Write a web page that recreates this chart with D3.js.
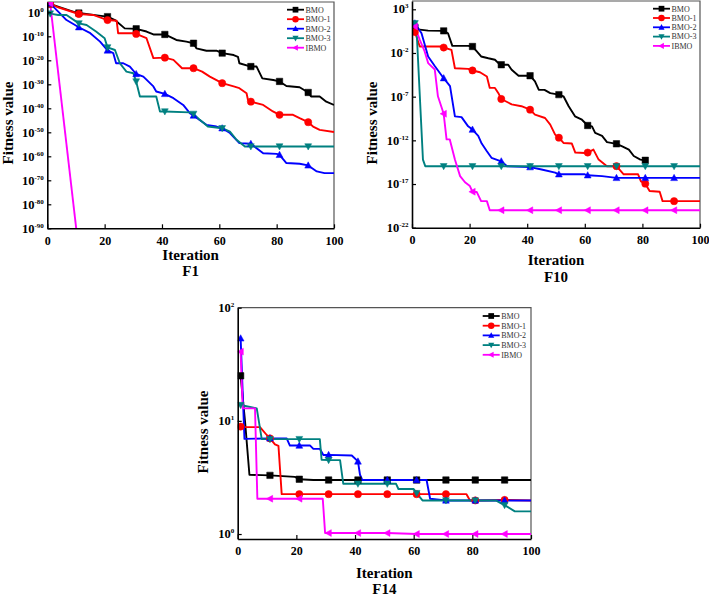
<!DOCTYPE html>
<html><head><meta charset="utf-8">
<script src="https://cdn.jsdelivr.net/npm/d3@7"></script>
<style>body{margin:0;background:#fff}svg{display:block}</style>
</head><body><svg id="c" width="709" height="599"></svg>
<script>
// ---------- data ----------
const seriesNames = ["BMO", "BMO-1", "BMO-2", "BMO-3", "IBMO"];
const xTickValues = [0, 20, 40, 60, 80, 100];
const f1TickExps = [0, -10, -20, -30, -40, -50, -60, -70, -80, -90];
const f10TickExps = [3, -2, -7, -12, -17, -22];
const f14TickExps = [2, 1, 0];

// F1 : [iteration, fitness]
const f1_BMO = [[0,5e3],[1,3e3],[4,2e2],[10,8e-1],[11,5e-1],[18,4e-2],[21,1.6e-2],[23.6,6e-4],[27,2e-7],[31,1.3e-7],[34.6,1e-8],[37,6e-10],[41,6e-10],[45,3e-12],[48.5,6e-13],[51,1.3e-13],[52,1e-15],[55.5,1e-16],[59,1e-16],[61,1e-17],[65,1.6e-18],[66.5,3e-19],[67,6e-22],[71,2.5e-23],[73,2.5e-23],[75,3e-28],[78.8,6e-29],[81,1.6e-29],[83.4,2e-31],[88,6e-32],[91,4e-34],[92,8e-36],[95,8e-36],[97.3,6e-38],[100,2.5e-39]];
const f1_BMO1 = [[0,5e3],[1,3e3],[4,1e2],[11,2e-1],[16,8e-2],[21,6e-4],[24.2,3e-4],[24.7,2e-9],[30,2e-9],[31,1e-9],[34.6,1.6e-11],[37,8e-20],[41,1.3e-19],[44,1.6e-20],[47,5e-24],[51,5e-24],[54,2e-25],[56.7,1.6e-27],[61,3e-30],[65,1.3e-31],[67,2.5e-32],[69.5,2e-34],[70,3e-37],[71,6e-38],[75.3,2.5e-39],[78.7,5e-42],[81,2e-43],[85.7,2e-43],[88,8e-45],[91,1.6e-46],[92.7,2.5e-48],[95,1e-49],[100,1.3e-50]];
const f1_BMO2 = [[0,5e3],[1,5e3],[6.7,6e-4],[11,6e-7],[15,2e-9],[18.4,6e-13],[21,1.3e-16],[23,1e-17],[24,6e-22],[26.5,6e-22],[28.8,2.5e-23],[31,2e-26],[33.5,1.6e-27],[37,1.3e-31],[38,1e-33],[41,1e-34],[44,1.6e-36],[47.4,2.5e-39],[49.7,1e-42],[51,1e-43],[53,1.6e-45],[55.5,1.3e-47],[59,2.5e-48],[61,5e-49],[63.7,5e-51],[67,3e-55],[71,1.6e-55],[75.3,2e-59],[80,1e-59],[81,4e-60],[83.4,1.6e-63],[88,8e-64],[91,1.6e-64],[94,5e-67],[96.7,1e-67],[100,1e-67]];
const f1_BMO3 = [[0,4e-1],[1,3e-1],[3.8,8e-2],[6.7,8e-2],[11,2.5e-5],[13.7,5e-6],[17,1e-8],[20,1.6e-11],[21,2.5e-15],[23.6,2e-16],[25.3,6e-22],[27.6,2e-25],[30,4e-26],[31,1.6e-29],[32.3,8e-36],[38,8e-36],[39.3,5e-42],[41,5e-42],[49.7,2e-42],[51,5e-43],[53.2,1.6e-45],[56,2.5e-48],[61,5e-49],[63.7,2e-50],[66,8e-54],[68.9,1.3e-56],[71,1.3e-56],[81,1.3e-56],[91,1.3e-56],[100,1.3e-56]];
const f1_IBMO = [[1,5e3],[11,3e-100]];

// F10
const f10_BMO = [[0,10.5],[1,9],[2,5],[5.6,3.6],[11,3.4],[12.5,1.8],[14,6.5e-2],[19.5,6.5e-2],[21,5.5e-2],[22.5,1.5e-2],[24,4e-3],[26.5,2.5e-3],[28.8,1.7e-3],[30,7e-4],[31,4.5e-4],[33.4,4.5e-4],[34.6,1.2e-4],[37,2.5e-5],[41,2.5e-5],[42.7,5.5e-6],[44,6.3e-7],[46,6e-7],[48,2.5e-7],[51,1.7e-7],[52.6,1.1e-7],[54.4,8e-9],[56.6,5.6e-10],[59,2.3e-10],[61,5e-11],[62.5,4e-11],[63.6,7e-12],[66,3.2e-12],[67.7,6.3e-13],[71,4e-13],[73,2e-13],[75.3,8.7e-14],[77,1.6e-14],[79.3,6.3e-15],[81,5.2e-15]];
const f10_BMO1 = [[0,2.8],[1,2.5],[2.7,5.5e-2],[10,5.5e-2],[11,4.2e-2],[13.7,2.3e-2],[14.9,1.8e-4],[19.5,1.5e-4],[21,1e-4],[23.6,6.3e-5],[26,2e-5],[27,1e-6],[28.8,1e-6],[30,2.5e-7],[31,5.4e-8],[34.6,1.3e-8],[38,8e-9],[41,3.2e-9],[42.7,8.7e-10],[46.2,3.6e-10],[48,6.3e-11],[49.7,4.5e-12],[51,2e-12],[52.6,5e-13],[55.5,4.3e-13],[56.7,4e-14],[60,3.6e-14],[61,4e-14],[63,8.7e-14],[64.8,6.3e-15],[67.7,1.1e-15],[71,1.1e-15],[73.5,1.3e-16],[78.5,1.3e-16],[79.5,2e-17],[81,1.1e-17],[82.5,1.6e-18],[86,1.3e-18],[87,1.1e-19],[91,1.1e-19],[100,1.1e-19]];
const f10_BMO2 = [[0,25],[1,25],[3.3,1.8],[5.6,4e-3],[7.9,3.2e-4],[11,1.3e-5],[13.2,1.6e-6],[14.9,5.6e-10],[17.2,4.5e-10],[19.5,4e-11],[21,1.7e-11],[23,3.2e-12],[24.2,4.3e-13],[26,5.6e-14],[27.6,1e-14],[31,4e-15],[33,1.1e-15],[41,8.5e-16],[45,4.6e-16],[49.7,2e-16],[51,1.3e-16],[60,1.3e-16],[61,1e-16],[66,8e-17],[71,5e-17],[81,5e-17],[91,5e-17],[100,5e-17]];
const f10_BMO3 = [[0,25],[1,25],[1.5,16],[3.8,6.3e-15],[4.6,1.1e-15],[11,1.1e-15],[21,1.1e-15],[31,1.1e-15],[41,1.1e-15],[51,1.1e-15],[61,1.1e-15],[71,1.1e-15],[81,1.1e-15],[91,1.1e-15],[100,1.1e-15]];
const f10_IBMO = [[0,10.5],[1,10.5],[2.7,0.32],[4.4,1.5e-2],[5.6,7e-4],[7.9,1.3e-4],[9,1.1e-7],[11,1.1e-9],[12,1.3e-12],[13.1,1.3e-12],[14.9,6.3e-15],[16.7,8e-17],[18.4,1.6e-17],[20.1,5.8e-18],[21,1.3e-18],[22.5,1.2e-18],[24,1.1e-19],[26,1.1e-19],[27,1e-20],[31,1e-20],[41,1e-20],[51,1e-20],[61,1e-20],[71,1e-20],[81,1e-20],[91,1e-20],[100,1e-20]];

// F14
const f14_BMO = [[0,25],[1,25],[2.5,9.9],[4,3.34],[11,3.3],[19.5,3.2],[21,3.05],[25.8,3.0],[31,3.0],[41,3.0],[51,3.0],[61,3.0],[71,3.0],[81,3.0],[91,3.0],[100,3.0]];
const f14_BMO1 = [[0,8.9],[1,8.9],[2.5,8.8],[7.6,8.8],[9.9,7.5],[11,7.0],[12.7,6.2],[13.9,6.0],[15,2.25],[21,2.25],[31,2.25],[41,2.25],[51,2.25],[61,2.25],[71,2.25],[78,2.25],[79.2,1.98],[81,1.98],[91,2.0],[100,1.98]];
const f14_BMO2 = [[1,53.6],[2.3,6.93],[11,7.0],[16.7,7.0],[17.8,6.05],[21,6.05],[24.7,6.05],[25.8,5.66],[28,5.66],[29.2,5.0],[31,5.0],[38.9,4.94],[41,4.38],[41.7,3.34],[42.5,3.0],[51,3.0],[61,3.0],[64.4,3.0],[65.6,2.05],[71,1.98],[81,1.98],[91,1.98],[100,1.98]];
const f14_BMO3 = [[0,13.8],[1,13.8],[6.5,12.9],[8.2,6.9],[11,6.9],[21,6.9],[28,6.9],[28.6,4.53],[31,4.5],[34.9,4.5],[36,2.78],[41,2.78],[51,2.78],[54,2.78],[54.8,2.5],[60,2.5],[61,2.3],[63,1.98],[71,1.98],[81,1.98],[88,1.98],[90.6,1.82],[91,1.8],[94.5,1.585],[100,1.585]];
const f14_IBMO = [[1,40.9],[1.7,12.9],[5.9,12.9],[6.7,2.05],[11,2.05],[21,2.05],[29,2.05],[29.8,1.02],[31,1.02],[41,1.02],[51,1.02],[61,1.0],[71,1.0],[81,1.0],[91,1.0],[100,1.0]];

// ---------- styles ----------
const colors = ["#000000", "#ff0000", "#0000ff", "#008080", "#ff00ff"];
const symbols = [d3.symbolSquare, d3.symbolCircle, "up", "down", "left"];
const SERIF = "'Liberation Serif','Times New Roman',serif";

const svg = d3.select("#c");

function markerPath(kind, s) {
  if (kind === "up") return `M0,${-s}L${s*0.95},${s*0.75}L${-s*0.95},${s*0.75}Z`;
  if (kind === "down") return `M0,${s}L${s*0.95},${-s*0.75}L${-s*0.95},${-s*0.75}Z`;
  if (kind === "left") return `M${-s},0L${s*0.75},${-s*0.95}L${s*0.75},${s*0.95}Z`;
  return d3.symbol().type(kind).size(s*s*3.2)();
}

const panels = [
  {key:"f1", series:[f1_BMO,f1_BMO1,f1_BMO2,f1_BMO3,f1_IBMO], L:47.3, R:334, T:2, B:228.3,
   yDom:[1e-90, 10**4.3], exps:f1TickExps, title:"F1", xLabY:259.5, titleY:275.5, yLabX:13, yLabY:123,
   legX:287, legY:9.7, legDy:9.5},
  {key:"f10", series:[f10_BMO,f10_BMO1,f10_BMO2,f10_BMO3,f10_IBMO], L:412, R:700, T:1, B:227.7,
   yDom:[1e-22, 10**3.95], exps:f10TickExps, title:"F10", xLabY:265, titleY:282, yLabX:377, yLabY:123,
   legX:653, legY:8.7, legDy:9.3},
  {key:"f14", series:[f14_BMO,f14_BMO1,f14_BMO2,f14_BMO3,f14_IBMO], L:237.7, R:531, T:307.7, B:539,
   yDom:[10**-0.044, 100], exps:f14TickExps, title:"F14", xLabY:578, titleY:594, yLabX:208, yLabY:432,
   legX:482.7, legY:316, legDy:9.7}
];

panels.forEach(p => {
  const x = d3.scaleLinear().domain([0, 100]).range([p.L, p.R]);
  const y = d3.scaleLog().domain(p.yDom).range([p.B, p.T]);
  const g = svg.append("g");

  g.append("clipPath").attr("id", "clip-" + p.key)
    .append("rect").attr("x", p.L).attr("y", p.T).attr("width", p.R - p.L).attr("height", p.B - p.T);

  // frame top/right
  g.append("path").attr("d", `M${p.L},${p.T}H${p.R}V${p.B}`)
    .attr("fill", "none").attr("stroke", "#555").attr("stroke-width", 1.2);

  const plot = g.append("g").attr("clip-path", `url(#clip-${p.key})`);
  const line = d3.line().x(d => x(d[0])).y(d => y(d[1]));
  p.series.forEach((s, i) => {
    plot.append("path").datum(s).attr("d", line)
      .attr("fill", "none").attr("stroke", colors[i]).attr("stroke-width", 1.9)
      .attr("stroke-linejoin", "round");
  });
  p.series.forEach((s, i) => {
    plot.selectAll(null).data(s.filter(d => Number.isInteger(d[0]) && d[0] % 10 === 1 && d[0] <= 91))
      .enter().append("path")
      .attr("transform", d => `translate(${x(d[0])},${y(d[1])})`)
      .attr("d", markerPath(symbols[i], 3.6))
      .attr("fill", colors[i]).attr("stroke", colors[i]).attr("stroke-width", 0.5);
  });

  // x axis
  const xa = g.append("g").attr("transform", `translate(0,${p.B})`)
    .call(d3.axisBottom(x).tickValues(xTickValues).tickSizeInner(-4).tickSizeOuter(0).tickPadding(5).tickFormat(d3.format("d")));
  xa.select(".domain").attr("stroke", "#000").attr("stroke-width", 1.6);
  xa.selectAll(".tick line").attr("stroke", "#000").attr("stroke-width", 1.2);
  xa.selectAll(".tick text").attr("font-family", SERIF).attr("font-weight", "bold").attr("font-size", 12)
    .attr("fill", "#000").attr("dy", "0.95em");

  // y axis
  const ya = g.append("g").attr("transform", `translate(${p.L},0)`)
    .call(d3.axisLeft(y).tickValues(p.exps.map(e => Math.pow(10, e))).tickSizeInner(-4).tickSizeOuter(0).tickFormat(""));
  ya.select(".domain").attr("stroke", "#000").attr("stroke-width", 1.6);
  ya.selectAll(".tick line").attr("stroke", "#000").attr("stroke-width", 1.2);
  p.exps.forEach(e => {
    const t = g.append("text").attr("x", p.L - 3.5).attr("y", y(Math.pow(10, e)) + 4.2)
      .attr("text-anchor", "end").attr("font-family", SERIF).attr("font-weight", "bold").attr("font-size", 12.5).attr("fill", "#000");
    t.append("tspan").text("10");
    t.append("tspan").attr("dy", -5).attr("font-size", 7).text(String(e));
  });

  // labels
  g.append("text").attr("x", (p.L + p.R) / 2).attr("y", p.xLabY).attr("text-anchor", "middle")
    .attr("font-family", SERIF).attr("font-weight", "bold").attr("font-size", 15).text("Iteration");
  g.append("text").attr("x", (p.L + p.R) / 2).attr("y", p.titleY).attr("text-anchor", "middle")
    .attr("font-family", SERIF).attr("font-weight", "bold").attr("font-size", 15).text(p.title);
  g.append("text").attr("transform", `translate(${p.yLabX},${p.yLabY}) rotate(-90)`).attr("text-anchor", "middle")
    .attr("font-family", SERIF).attr("font-weight", "bold").attr("font-size", 15).text("Fitness value");

  // legend
  seriesNames.forEach((n, i) => {
    const ly = p.legY + i * p.legDy;
    g.append("line").attr("x1", p.legX).attr("x2", p.legX + 17).attr("y1", ly).attr("y2", ly)
      .attr("stroke", colors[i]).attr("stroke-width", 1.8);
    g.append("path").attr("transform", `translate(${p.legX + 8.5},${ly})`).attr("d", markerPath(symbols[i], 3.2))
      .attr("fill", colors[i]);
    g.append("text").attr("x", p.legX + 18.5).attr("y", ly + 2.8).attr("font-family", SERIF)
      .attr("font-size", 8).attr("fill", "#333").text(n);
  });
});
</script>
</body></html>
